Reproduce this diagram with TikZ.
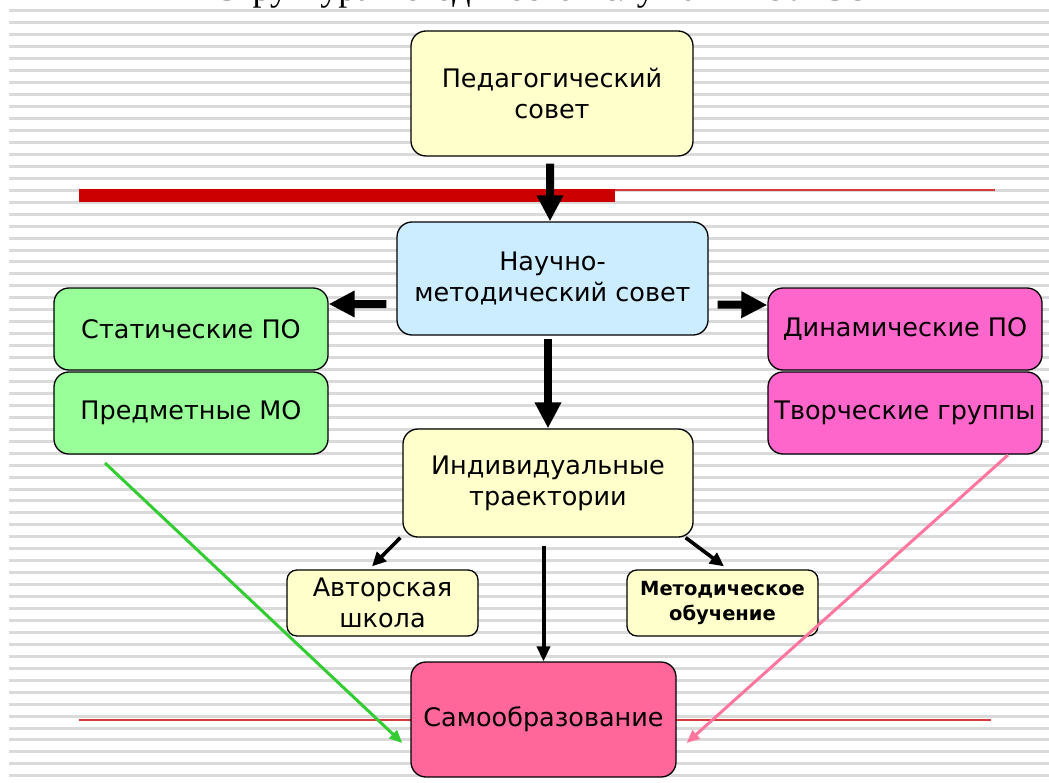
\documentclass[tikz,border=0pt]{standalone}
\usepackage{fontspec}
\setmainfont{DejaVu Sans}
\newfontfamily\titlefont{Liberation Serif}
\usetikzlibrary{arrows.meta}
\definecolor{stripe}{HTML}{DADADA}
\definecolor{pale}{HTML}{FFFFCC}
\definecolor{paleblue}{HTML}{CCECFF}
\definecolor{lgreen}{HTML}{99FF99}
\definecolor{magen}{HTML}{FF66CC}
\definecolor{rosy}{HTML}{FF6699}
\definecolor{darkred}{HTML}{CC0000}
\definecolor{thinred}{HTML}{D63A3A}
\definecolor{garrow}{HTML}{33CC33}
\definecolor{parrow}{HTML}{FF779F}
\tikzset{
  box/.style={draw=black, line width=1.3bp, rounded corners=15bp, align=center,
    inner sep=0pt, font=\fontsize{25.5bp}{31bp}\selectfont},
  smallbox/.style={box, rounded corners=10bp},
  bigarrow/.style={line width=8bp, -{Triangle[length=26bp,width=25bp]}},
  midarrow/.style={line width=4bp, -{Triangle[length=15bp,width=13bp]}},
  thinarrow/.style={line width=3bp, -{Triangle[length=13bp,width=11bp]}},
  forkarrow/.style={line width=3.6bp, -{Triangle[length=14bp,width=13bp]}},
}
\begin{document}
\begin{tikzpicture}[x=1bp,y=-1bp]
\useasboundingbox (0,0) rectangle (1049,783);
\fill[white] (0,0) rectangle (1049,783);
% stripes
\foreach \k in {0,...,64}{
  \fill[stripe] (9,{11+11.95*\k-1.5}) rectangle (1049,{11+11.95*\k+1.5});
}
% cut-off title
\node[anchor=base, inner sep=0pt, font=\titlefont\fontsize{36bp}{40bp}\selectfont] (title) at (560,1) {Структура методической службы МОУ СОШ};
% red rules
\fill[darkred] (79,189) rectangle (615,202);
\draw[thinred, line width=1.6bp] (615,189.8) -- (995,189.8);
\draw[thinred, line width=2bp] (79,720) -- (991,720);

% nodes
\node[box, fill=pale, minimum width=282bp, minimum height=125bp] (ped) at (552,93.5) {Педагогический\\совет};
\node[box, fill=paleblue, minimum width=311bp, minimum height=113bp] (nms) at (552.5,278.5) {Научно-\\методический совет};
\node[box, fill=lgreen, minimum width=274bp, minimum height=82bp] (stat) at (191,329) {Статические ПО};
\node[box, fill=lgreen, minimum width=274bp, minimum height=82bp] (pred) at (191,413) {Предметные МО};
\node[box, fill=magen, minimum width=274bp, minimum height=82bp] (dyn) at (905,329) {Динамические ПО};
\node[box, fill=magen, minimum width=274bp, minimum height=82bp] (tvor) at (905,413) {Творческие группы};
\node[box, fill=pale, minimum width=290bp, minimum height=108bp] (ind) at (548,483) {Индивидуальные\\траектории};
\node[smallbox, fill=pale, minimum width=191bp, minimum height=66bp] (avt) at (382.5,603) {Авторская\\школа};
\node[smallbox, fill=pale, minimum width=191bp, minimum height=66bp, font=\bfseries\fontsize{19.5bp}{25bp}\selectfont] (met) at (722.5,603) {Методическое\\обучение};
\node[box, fill=rosy, minimum width=265bp, minimum height=115bp] (samo) at (543.5,719.5) {\raisebox{-3bp}{Самообразование}};

% connectors
\draw[bigarrow, shorten <=7bp] ([xshift=-2bp]ped.south) -- ([xshift=-2.5bp]nms.north);
\draw[bigarrow] ([xshift=-10bp,yshift=-25.5bp]nms.west) -- ([yshift=25bp]stat.east);
\draw[bigarrow] ([xshift=9bp,yshift=-26bp]nms.east) -- ([yshift=24bp]dyn.west);
\draw[bigarrow, shorten <=3bp] (nms.south -| ind.north) -- (ind.north);
\draw[forkarrow] ([xshift=-2bp]ind.south west) -- ([xshift=-10.5bp,yshift=3bp]avt.north);
\draw[forkarrow] ([xshift=-8bp]ind.south east) -- ([xshift=1.5bp,yshift=3bp]met.north);
\draw[midarrow, shorten <=8bp] (ind.south -| samo.north) -- (samo.north);
\coordinate (gs) at (105,463);
\coordinate (ps) at (1008,455);
\draw[thinarrow, garrow] (gs) -- ([xshift=-8bp,yshift=-23.5bp]samo.west);
\draw[thinarrow, parrow] (ps) -- ([xshift=10bp,yshift=-23.5bp]samo.east);
\end{tikzpicture}
\end{document}
